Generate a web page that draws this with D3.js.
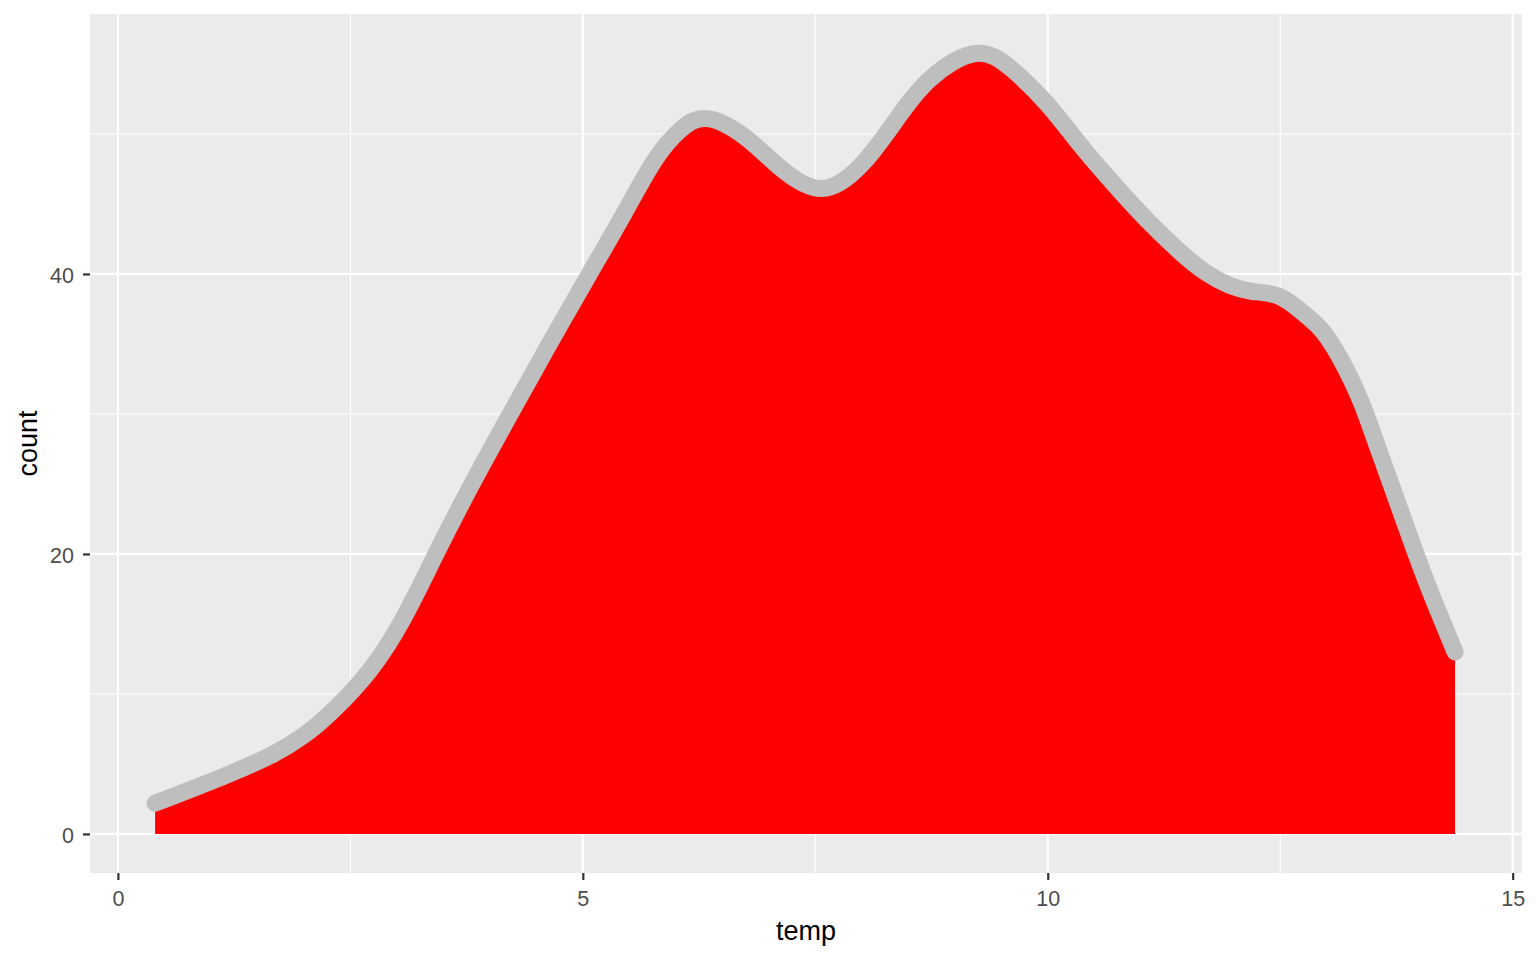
<!DOCTYPE html>
<html>
<head>
<meta charset="utf-8">
<script src="https://cdn.jsdelivr.net/npm/d3@7"></script>
<style>
  body { margin: 0; background: #fff; }
  svg { display: block; }
</style>
</head>
<body>
<svg id="chart"></svg>
<script>
// density curve (temp vs count)
const temp = [0.40, 1.13, 1.67, 1.99, 2.17, 2.35, 2.71, 3.07, 3.42, 3.80, 4.22, 4.64, 5.07,
  5.45, 5.77, 6.05, 6.34, 6.74, 7.12, 7.57, 8.01, 8.38, 8.73, 9.22, 9.62, 10.00, 10.34, 10.70,
  11.06, 11.42, 11.70, 11.95, 12.20, 12.49, 12.75, 12.97, 13.20, 13.38, 13.55, 13.75, 13.96,
  14.15, 14.38];
const count = [2.2, 4.1, 5.7, 7.0, 7.95, 9.05, 11.7, 15.4, 20.0, 24.9, 30.0, 35.0, 40.0,
  44.4, 48.1, 50.3, 51.1, 49.8, 47.6, 46.1, 47.9, 51.1, 53.9, 55.75, 54.6, 52.1, 49.3, 46.5,
  43.9, 41.6, 40.1, 39.2, 38.75, 38.4, 37.2, 35.8, 33.3, 30.7, 27.6, 23.9, 20.0,
  16.7, 13.0];
const xTicks = [0, 5, 10, 15];
const xMinor = [2.5, 7.5, 12.5];
const yTicks = [0, 20, 40];
const yMinor = [10, 30, 50];

const data = temp.map((t, i) => ({ temp: t, count: count[i] }));

const width = 1536, height = 960;
const margin = { top: 14, right: 14, bottom: 87, left: 90 };
const font = "Liberation Sans, Arial, sans-serif";

const svg = d3.select("#chart")
    .attr("width", width)
    .attr("height", height);

const x = d3.scaleLinear()
    .domain([-0.30, 15.10])
    .range([margin.left, width - margin.right]);

const y = d3.scaleLinear()
    .domain([-2.79, 58.57])
    .range([height - margin.bottom, margin.top]);

// panel background
svg.append("rect")
    .attr("x", margin.left)
    .attr("y", margin.top)
    .attr("width", width - margin.left - margin.right)
    .attr("height", height - margin.top - margin.bottom)
    .attr("fill", "#ebebeb");

const grid = svg.append("g");

grid.selectAll(".xminor").data(xMinor).enter().append("line")
    .attr("x1", d => x(d)).attr("x2", d => x(d))
    .attr("y1", margin.top).attr("y2", height - margin.bottom)
    .attr("stroke", "#fff").attr("stroke-width", 1.1);

grid.selectAll(".yminor").data(yMinor).enter().append("line")
    .attr("y1", d => y(d)).attr("y2", d => y(d))
    .attr("x1", margin.left).attr("x2", width - margin.right)
    .attr("stroke", "#fff").attr("stroke-width", 1.1);

grid.selectAll(".xmajor").data(xTicks).enter().append("line")
    .attr("x1", d => x(d)).attr("x2", d => x(d))
    .attr("y1", margin.top).attr("y2", height - margin.bottom)
    .attr("stroke", "#fff").attr("stroke-width", 2.2);

grid.selectAll(".ymajor").data(yTicks).enter().append("line")
    .attr("y1", d => y(d)).attr("y2", d => y(d))
    .attr("x1", margin.left).attr("x2", width - margin.right)
    .attr("stroke", "#fff").attr("stroke-width", 2.2);

// filled area, then the thick grey outline on top
const area = d3.area()
    .x(d => x(d.temp))
    .y0(y(0))
    .y1(d => y(d.count))
    .curve(d3.curveNatural);

const line = d3.line()
    .x(d => x(d.temp))
    .y(d => y(d.count))
    .curve(d3.curveNatural);

svg.append("path")
    .datum(data)
    .attr("d", area)
    .attr("fill", "#ff0000");

svg.append("path")
    .datum(data)
    .attr("d", line)
    .attr("fill", "none")
    .attr("stroke", "#bebebe")
    .attr("stroke-width", 17)
    .attr("stroke-linecap", "round")
    .attr("stroke-linejoin", "round");

// axes
const xAxis = svg.append("g")
    .attr("transform", `translate(0, ${height - margin.bottom})`)
    .call(d3.axisBottom(x).tickValues(xTicks).tickSize(7).tickPadding(11).tickFormat(d3.format("d")));

const yAxis = svg.append("g")
    .attr("transform", `translate(${margin.left}, 0)`)
    .call(d3.axisLeft(y).tickValues(yTicks).tickSize(7).tickPadding(9).tickFormat(d3.format("d")));

[xAxis, yAxis].forEach(a => {
    a.attr("font-size", null).attr("font-family", null);
    a.select(".domain").remove();
    a.selectAll(".tick line").attr("stroke", "#333333").attr("stroke-width", 2.2);
    a.selectAll(".tick text")
        .attr("fill", "#4d4d4d")
        .style("font-family", font)
        .style("font-size", "21.5px");
});
yAxis.selectAll(".tick text").attr("dy", "0.4em");

svg.append("text")
    .attr("x", (margin.left + width - margin.right) / 2)
    .attr("y", 940)
    .attr("text-anchor", "middle")
    .style("font-family", font)
    .style("font-size", "27px")
    .attr("fill", "#000")
    .text("temp");

svg.append("text")
    .attr("transform", `translate(37, ${(margin.top + height - margin.bottom) / 2}) rotate(-90)`)
    .attr("text-anchor", "middle")
    .style("font-family", font)
    .style("font-size", "27px")
    .attr("fill", "#000")
    .text("count");
</script>
</body>
</html>
